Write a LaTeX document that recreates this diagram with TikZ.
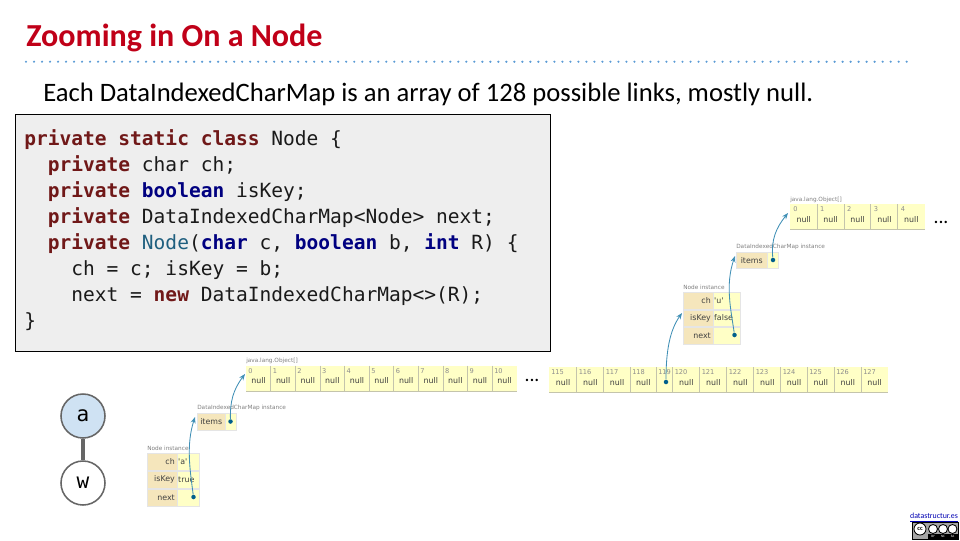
\documentclass[tikz,border=0pt]{standalone}
\usepackage{fontspec}
\setmainfont{Carlito}
\setmonofont{DejaVu Sans Mono}
\newfontfamily\cellfont{DejaVu Sans}
\usetikzlibrary{arrows.meta}
\definecolor{titlered}{HTML}{C00018}
\definecolor{dotblue}{HTML}{5B9BD5}
\definecolor{codegray}{HTML}{EEEEEE}
\definecolor{kwred}{HTML}{701818}
\definecolor{kwblue}{HTML}{000080}
\definecolor{fnblue}{HTML}{1F5F7F}
\definecolor{textdark}{HTML}{1A1A1A}
\definecolor{cellyellow}{HTML}{FFFFC6}
\definecolor{namecell}{HTML}{F5E6BC}
\definecolor{cellline}{HTML}{C4C4AC}
\definecolor{linkblue}{HTML}{3F8FB5}
\definecolor{linkdot}{HTML}{005F8C}
\definecolor{nodeblue}{HTML}{CFE2F3}
\definecolor{treegray}{HTML}{666666}
\newcommand{\kwr}[1]{\textcolor{kwred}{\textbf{#1}}}
\newcommand{\kwb}[1]{\textcolor{kwblue}{\textbf{#1}}}
\newcommand{\cellsize}{\fontsize{5.6pt}{6pt}\selectfont}
\tikzset{
  arrcell/.style={fill=cellyellow, inner sep=0pt, minimum height=25*0.025cm, text=black!75,
    font=\cellfont\cellsize},
  idxlabel/.style={font=\cellfont\fontsize{4.7pt}{5pt}\selectfont, text=black!45, inner sep=0pt, anchor=north west},
  namecellbox/.style={fill=namecell, draw=black!10, line width=0.3pt, inner ysep=0pt, inner xsep=0.05cm, align=right,
    text=black!75, font=\cellfont\cellsize},
  valcellbox/.style={fill=cellyellow, draw=black!10, line width=0.3pt, inner ysep=0pt, inner xsep=0.025cm, align=left,
    text=black!75, font=\cellfont\cellsize},
  instlabel/.style={font=\cellfont\fontsize{4.1pt}{5pt}\selectfont, text=black!50, inner sep=0pt, anchor=south west},
  linkdotstyle/.style={circle, fill=linkdot, inner sep=0pt, minimum size=3.2pt},
  linkarrow/.style={draw=linkblue, line width=0.6pt, -{Stealth[length=4.5pt,width=3.5pt]}},
  treenode/.style={circle, draw=treegray, line width=1.1pt, minimum size=44*0.025cm, inner sep=0pt,
    font=\ttfamily\fontsize{15pt}{16pt}\selectfont}
}
\begin{document}
\begin{tikzpicture}[x=0.025cm, y=-0.025cm]
  \useasboundingbox (0,0) rectangle (960,540);

  % title and rule
  \node[anchor=west, inner sep=0pt, text=titlered, font=\bfseries\fontsize{22.8pt}{24pt}\selectfont] (title) at (26,37.5) {Zooming in On a Node};
  \foreach \x in {0,...,110}
    \fill[dotblue] (26+\x*8.006,61.7) circle (1.2);
  \node[anchor=west, inner sep=0pt, font=\fontsize{18.93pt}{22pt}\selectfont] (subtitle) at (43,94) {Each DataIndexedCharMap is an array of 128 possible links, mostly null.};

  % code box
  \node[draw=black, fill=codegray, line width=0.7pt, minimum width=535*0.025cm, minimum height=237*0.025cm, inner sep=0pt] (codebox) at (282.5,232.5) {};
  \node[anchor=north west, inner sep=0pt, align=left, text=textdark, font=\ttfamily\fontsize{13.9pt}{18.5pt}\selectfont] (code) at (24,129) {%
\kwr{private static class} Node \{\\
\ \ \kwr{private} char ch;\\
\ \ \kwr{private} \kwb{boolean} isKey;\\
\ \ \kwr{private} DataIndexedCharMap<Node> next;\\
\ \ \kwr{private} \textcolor{fnblue}{Node}(\kwb{char} c, \kwb{boolean} b, \kwb{int} R) \{\\
\ \ \ \ ch = c; isKey = b;\\
\ \ \ \ next = \kwr{new} DataIndexedCharMap<>(R);\\
\}};

  % tree
  \node[treenode, fill=nodeblue] (a) at (83,416) {a};
  \node[treenode] (w) at (83,483) {w};
  \draw[draw=treegray, line width=2.2pt] (a) -- (w);

  % first array, 0 to 10
  \node[instlabel] (arrlabela) at (246,364) {java.lang.Object[]};
  \foreach \i in {0,...,10} {
    \node[arrcell, minimum width=24.6*0.025cm, anchor=north west] (a\i) at (246+\i*24.6,365.5) {\raisebox{-7.5pt}{null}};
    \node[idxlabel] (ai\i) at (248+\i*24.6,368) {\i};
    \ifnum\i>0 \draw[cellline] (a\i.north west) -- (a\i.south west); \fi
    \draw[cellline] (a\i.south west) -- (a\i.south east);
  }
  \node[inner sep=0pt, font=\fontsize{14pt}{14pt}\selectfont] (dotsa) at (532,380) {...};

  % second array, 115 to 127
  \foreach \i/\x/\w in {115/549/27.5,116/576.5/27,117/603.5/26.5,118/630/26,119/656/16.5,120/672.5/27,121/699.5/27,122/726.5/27,123/753.5/27,124/780.5/26.5,125/807/27,126/834/27,127/861/26.5} {
    \node[arrcell, minimum width=\w*0.025cm, anchor=north west] (b\i) at (\x,367) {\ifnum\i=119\else\raisebox{-7.5pt}{null}\fi};
    \node[idxlabel] (bi\i) at (\x+2,369.5) {\i};
    \ifnum\i>115 \draw[cellline] (b\i.north west) -- (b\i.south west); \fi
    \draw[cellline] (b\i.south west) -- (b\i.south east);
  }

  % top array, 0 to 4
  \node[instlabel] (arrlabelc) at (790,203) {java.lang.Object[]};
  \foreach \i in {0,...,4} {
    \node[arrcell, minimum width=26.9*0.025cm, anchor=north west] (c\i) at (790+\i*26.9,204) {\raisebox{-7.5pt}{null}};
    \node[idxlabel] (ci\i) at (793+\i*26.9,206.5) {\i};
    \ifnum\i>0 \draw[cellline] (c\i.north west) -- (c\i.south west); \fi
    \draw[cellline] (c\i.south west) -- (c\i.south east);
  }
  \node[inner sep=0pt, font=\fontsize{14pt}{14pt}\selectfont] (dotsc) at (941,222) {...};

  % map instances
  \node[instlabel] (maplabela) at (197,411) {DataIndexedCharMap instance};
  \node[namecellbox, align=center, minimum width=28*0.025cm, minimum height=17*0.025cm, anchor=north west] (itemsa) at (197,413) {items};
  \node[valcellbox, minimum width=11*0.025cm, minimum height=17*0.025cm, anchor=north west] (itemsvala) at (225,413) {};
  \node[instlabel] (maplabelb) at (736,250) {DataIndexedCharMap instance};
  \node[namecellbox, align=center, minimum width=31*0.025cm, minimum height=16*0.025cm, anchor=north west] (itemsb) at (736,252) {items};
  \node[valcellbox, minimum width=11*0.025cm, minimum height=16*0.025cm, anchor=north west] (itemsvalb) at (767,252) {};

  % node instances
  \node[instlabel] (nodelabela) at (147,451) {Node instance};
  \foreach \nm/\val/\y in {ch/'a'/453,isKey/true/471,next//489} {
    \node[namecellbox, text width=26*0.025cm, minimum height=17*0.025cm, anchor=north east] (na\nm) at (177,\y) {\nm};
    \node[valcellbox, text width=20*0.025cm, minimum height=17*0.025cm, anchor=north west] (va\nm) at (177,\y) {\val};
  }
  \node[instlabel] (nodelabelb) at (683,290) {Node instance};
  \foreach \nm/\val/\y in {ch/'u'/292,isKey/false/309.5,next//327} {
    \node[namecellbox, text width=26*0.025cm, minimum height=16.5*0.025cm, anchor=north east] (nb\nm) at (713,\y) {\nm};
    \node[valcellbox, text width=25*0.025cm, minimum height=16.5*0.025cm, anchor=north west] (vb\nm) at (713,\y) {\val};
  }

  % links
  \node[linkdotstyle] (dota) at (193.5,497) {};
  \node[linkdotstyle] (dotb) at (230.5,421.5) {};
  \node[linkdotstyle] (dotc) at (666,382) {};
  \node[linkdotstyle] (dotd) at (734.5,335) {};
  \node[linkdotstyle] (dote) at (773,260) {};
  \coordinate (toa) at (195,417);
  \coordinate (tob) at (245,374);
  \coordinate (toc) at (682,313);
  \coordinate (tod) at (735,256);
  \coordinate (toe) at (788,213);
  \draw[linkarrow] (dota) .. controls (190,470) and (186,445) .. (toa);
  \draw[linkarrow] (dotb) .. controls (230,402) and (233,390) .. (tob);
  \draw[linkarrow] (dotc) .. controls (666,350) and (670,330) .. (toc);
  \draw[linkarrow] (dotd) .. controls (731,310) and (725,285) .. (tod);
  \draw[linkarrow] (dote) .. controls (771,240) and (776,228) .. (toe);

  % footer
  \node[inner sep=0pt, text=blue!70!black, font=\fontsize{5.6pt}{6pt}\selectfont] (site) at (934,517.5) {\underline{datastructur.es}};
  \node[fill=black!35, draw=black, line width=0.4pt, inner sep=0pt, minimum width=46*0.025cm, minimum height=17*0.025cm, anchor=north west] (badge) at (912,522) {};
  \node[fill=black, inner sep=0pt, minimum width=30*0.025cm, minimum height=5*0.025cm, anchor=south east] (badgestrip) at (badge.south east) {};
  \foreach \nm/\lab/\x/\r in {cc/cc/920/6,by//933/4.5,nc//943/4.5,sa//952.5/4.5}
    \node[circle, draw=black, fill=white, line width=0.6pt, inner sep=0pt, minimum size=\r*0.05cm, font=\bfseries\fontsize{4.5pt}{5pt}\selectfont] (\nm) at (\x,529) {\lab};
  \foreach \nm/\lab/\x in {lby/BY/933,lnc/NC/943,lsa/SA/952.5}
    \node[inner sep=0pt, text=white, font=\fontsize{2.4pt}{3pt}\selectfont] (\nm) at (\x,536.5) {\lab};
\end{tikzpicture}
\end{document}
